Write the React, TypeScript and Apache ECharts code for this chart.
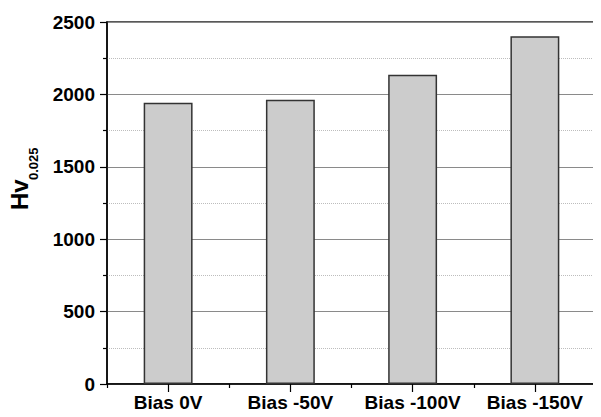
import React, { useEffect, useRef } from "react";
import * as echarts from "echarts";

const categories = ["Bias 0V", "Bias -50V", "Bias -100V", "Bias -150V"];
const hardness = [1943, 1963, 2136, 2402];
const yTicks = { min: 0, max: 2500, interval: 500 };

const FONT = "Liberation Sans, Arial, Helvetica, sans-serif";

export default function App() {
  const ref = useRef<HTMLDivElement>(null);

  useEffect(() => {
    if (!ref.current) return;
    const chart = echarts.init(ref.current, null, { renderer: "svg" });
    chart.setOption({
      animation: false,
      backgroundColor: "#ffffff",
      grid: {
        left: 107,
        right: 5,
        top: 22,
        bottom: 33,
        show: true,
        borderColor: "#222",
        borderWidth: 1.5,
        backgroundColor: "transparent",
      },
      xAxis: [
        {
          type: "category",
          data: categories,
          axisLine: { show: true, lineStyle: { color: "#000", width: 1.5 } },
          axisTick: { show: true, interval: 0, inside: false, length: 4, lineStyle: { color: "#000", width: 1.2 } },
          axisLabel: {
            interval: 0,
            hideOverlap: false,
            margin: 9,
            color: "#000",
            fontFamily: FONT,
            fontWeight: "bold",
            fontSize: 19,
          },
          splitLine: { show: false },
        },
        {
          type: "category",
          data: categories,
          position: "bottom",
          axisLine: { show: false },
          axisTick: { show: true, interval: 0, alignWithLabel: true, length: 8, lineStyle: { color: "#000", width: 1.2 } },
          axisLabel: { show: false },
          splitLine: { show: false },
        },
      ],
      yAxis: {
        type: "value",
        min: yTicks.min,
        max: yTicks.max,
        interval: yTicks.interval,
        axisLine: { show: true, lineStyle: { color: "#000", width: 1.5 } },
        axisTick: { show: true, length: 7, lineStyle: { color: "#000", width: 1.2 } },
        minorTick: { show: true, splitNumber: 2, length: 4, lineStyle: { color: "#000", width: 1.2 } },
        axisLabel: {
          margin: 12,
          color: "#000",
          fontFamily: FONT,
          fontWeight: "bold",
          fontSize: 19,
          formatter: (v: number) => String(v),
        },
        splitLine: { show: true, lineStyle: { color: "#8a8a8a", width: 1, type: "solid" } },
        minorSplitLine: { show: true, lineStyle: { color: "#bdbdbd", width: 1, type: [1, 1] } },
      },
      graphic: [
        {
          type: "text",
          x: 31.5,
          y: 210,
          rotation: Math.PI / 2,
          style: {
            text: "Hv",
            fontFamily: FONT,
            fontWeight: "bold",
            fontSize: 24,
            fill: "#000",
            textAlign: "left",
            textVerticalAlign: "bottom",
          },
        },
        {
          type: "text",
          x: 39.5,
          y: 180,
          rotation: Math.PI / 2,
          style: {
            text: "0.025",
            fontFamily: FONT,
            fontWeight: "bold",
            fontSize: 13,
            fill: "#000",
            textAlign: "left",
            textVerticalAlign: "bottom",
          },
        },
      ],
      series: [
        {
          type: "bar",
          data: hardness,
          barWidth: "40%",
          itemStyle: { color: "#cccccc", borderColor: "#333", borderWidth: 1.5 },
          z: 3,
        },
      ],
    });
    return () => chart.dispose();
  }, []);

  return <div ref={ref} style={{ width: 601, height: 417, margin: -8 }} />;
}
